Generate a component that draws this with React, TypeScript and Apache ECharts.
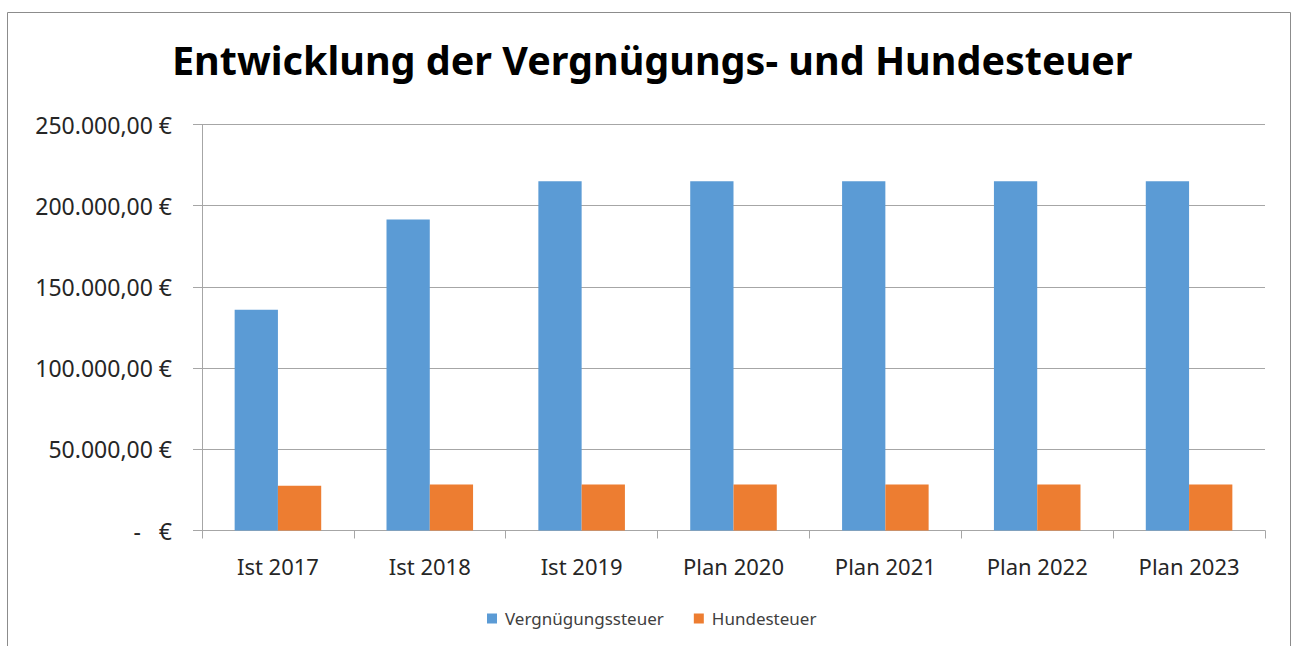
import React, { useEffect, useRef } from "react";
import * as echarts from "echarts";

const categories = ["Ist 2017", "Ist 2018", "Ist 2019", "Plan 2020", "Plan 2021", "Plan 2022", "Plan 2023"];
const vergnuegungssteuer = [136000, 191500, 215000, 215000, 215000, 215000, 215000];
const hundesteuer = [27600, 28400, 28400, 28400, 28400, 28400, 28400];
const seriesNames = ["Vergnügungssteuer", "Hundesteuer"];
const titleText = "Entwicklung der Vergnügungs- und Hundesteuer";

const FONT = "'Noto Sans', 'Open Sans', sans-serif";

function euro(v: number): string {
  if (v === 0) return "-\u00a0\u00a0\u00a0€";
  const int = Math.round(v).toString().replace(/\B(?=(\d{3})+(?!\d))/g, ".");
  return int + ",00\u00a0€";
}

export default function App() {
  const ref = useRef<HTMLDivElement>(null);
  useEffect(() => {
    if (!ref.current) return;
    const chart = echarts.init(ref.current, undefined, { renderer: "svg" });
    chart.setOption({
      animation: false,
      backgroundColor: "#ffffff",
      graphic: [
        {
          type: "rect",
          z: -10,
          shape: { x: 7.5, y: 12.5, width: 1283, height: 700 },
          style: { fill: "none", stroke: "#8c8c8c", lineWidth: 1 },
        },
      ],
      title: {
        text: titleText,
        left: 172,
        top: 40,
        padding: 0,
        textStyle: { fontFamily: FONT, fontWeight: "bold", fontSize: 39.5, color: "#000000" },
      },
      legend: {
        bottom: 14,
        left: 482,
        itemWidth: 10,
        itemHeight: 10,
        itemGap: 30,
        icon: "rect",
        textStyle: { fontFamily: FONT, fontSize: 17, color: "#404040", padding: [0, 0, 0, 3] },
        data: seriesNames,
      },
      grid: { left: 202, right: 27, top: 124.5, bottom: 115.5, containLabel: false },
      xAxis: {
        type: "category",
        data: categories,
        axisLine: { show: true, lineStyle: { color: "#a6a6a6", width: 1 } },
        axisTick: { show: true, length: 8, lineStyle: { color: "#a6a6a6" } },
        axisLabel: { fontFamily: FONT, fontSize: 22, color: "#262626", margin: 24 },
      },
      yAxis: {
        type: "value",
        min: 0,
        max: 250000,
        interval: 50000,
        axisLine: { show: true, lineStyle: { color: "#a6a6a6", width: 1 } },
        axisTick: { show: true, length: 9, lineStyle: { color: "#a6a6a6" } },
        splitLine: { show: true, lineStyle: { color: "#a6a6a6", width: 1 } },
        axisLabel: { fontFamily: FONT, fontSize: 23, color: "#262626", margin: 30, formatter: euro },
      },
      series: [
        {
          name: seriesNames[0],
          type: "bar",
          data: vergnuegungssteuer,
          itemStyle: { color: "#5b9bd5" },
          barGap: "0%",
          barCategoryGap: "43%",
        },
        {
          name: seriesNames[1],
          type: "bar",
          data: hundesteuer,
          itemStyle: { color: "#ed7d31" },
          barGap: "0%",
          barCategoryGap: "43%",
        },
      ],
    });
    return () => chart.dispose();
  }, []);
  return (
    <div
      ref={ref}
      style={{ position: "absolute", left: 0, top: 0, width: 1292, height: 646 }}
    />
  );
}
